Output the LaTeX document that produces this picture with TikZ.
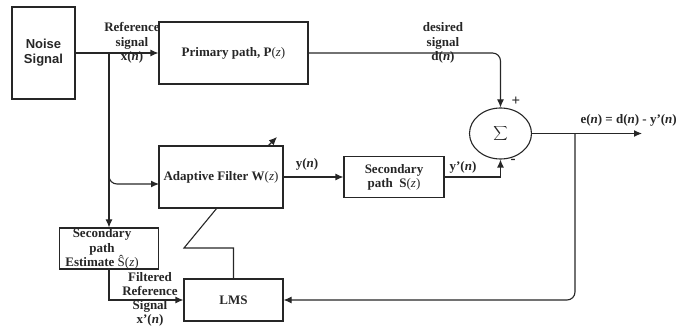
\documentclass[tikz,border=0pt]{standalone}
\usepackage{fontspec}
\setmainfont{Liberation Serif}
\newfontfamily\labelsans{Liberation Sans}
\usetikzlibrary{shapes, positioning, arrows.meta}

\tikzset{
    block/.style={rectangle, draw, inner sep=0pt},
    lbl/.style={font=\fontsize{13}{14.2}\selectfont\bfseries, align=center, inner sep=0pt},
    sig/.style={-{Latex[length=8pt,width=7pt]}}
}

\begin{document}
\begin{tikzpicture}[x=1pt, y=-1pt, line width=1.1pt, color=black!85]
        \useasboundingbox (0,0) rectangle (678,328);

        \node[block, lbl, minimum width=63pt, minimum height=92pt, font=\fontsize{13}{15}\selectfont\labelsans\bfseries] (noise) at (43.5,53) {Noise\\Signal};
        \node[block, lbl, minimum width=149pt, minimum height=62pt] (primary) at (233.5,53) {Primary path, P\textmd{(\textit{z})}};
        \node[block, lbl, minimum width=124pt, minimum height=62pt] (adaptive) at (221,177) {Adaptive Filter W\textmd{(\textit{z})}};
        \node[block, lbl, minimum width=100pt, minimum height=41pt] (secondary) at (394,177) {Secondary\\path~ S\textmd{(\textit{z})}};
        \node[block, minimum width=99pt, minimum height=41pt] (estimate) at (109,248.5) {};
        \node[lbl] (esttext) at (102,249) {Secondary\\path\\Estimate \textmd{Ŝ(\textit{z})}};
        \node[block, lbl, minimum width=99pt, minimum height=42pt] (lms) at (233.5,300) {LMS};
        \node[ellipse, draw, minimum width=62pt, minimum height=51pt, inner sep=0pt, font=\fontsize{14}{16}\selectfont] (sum) at (500.5,133.5) {$\displaystyle\sum$};

        \coordinate (refsplit) at (109,53);
        \coordinate (adin) at (159,184);
        \coordinate (errsplit) at (575,133.5);
        \coordinate (errout) at (642,133.5);
        \coordinate (lmsbend) at (184,248);
        \coordinate (adout) at (217,208);
        \coordinate (tunefrom) at (268,146);
        \coordinate (tuneto) at (277,137);

        \draw[sig] (noise.east) -- (primary.west);
        \draw[sig] (refsplit) -- (estimate.north);
        \draw[sig, rounded corners=8pt] (refsplit) |- (adin);
        \draw[sig, rounded corners=8pt] (primary.east) -| (sum.north);
        \draw[sig] (adaptive.east) -- (secondary.west);
        \draw[sig] (secondary.east) -| (sum.south);
        \draw[sig] (sum.east) -- (errout);
        \draw[sig, rounded corners=8pt] (errsplit) |- (lms.east);
        \draw[sig] (estimate.south) |- (lms.west);
        \draw (lms.north) |- (lmsbend) -- (adout);
        \draw[sig] (tunefrom) -- (tuneto);

        \node[lbl] (reflbl) at (132,43) {Reference\\signal\\x(\textit{n})};
        \node[lbl] (dlbl) at (443,43) {desired\\signal\\d(\textit{n})};
        \node[lbl] (ylbl) at (307,164) {y(\textit{n})};
        \node[lbl] (yplbl) at (463,167) {y'(\textit{n})};
        \node[lbl, font=\fontsize{15}{16}\selectfont\bfseries] (plus) at (516,101) {+};
        \node[lbl, font=\fontsize{15}{16}\selectfont\bfseries] (minus) at (513,161) {-};
        \node[lbl, anchor=west] (elbl) at (580,120) {e(\textit{n}) = d(\textit{n}) - y'(\textit{n})};
        \node[lbl] (xplbl) at (150,299.5) {Filtered\\Reference\\Signal\\x'(\textit{n})};
\end{tikzpicture}
\end{document}
